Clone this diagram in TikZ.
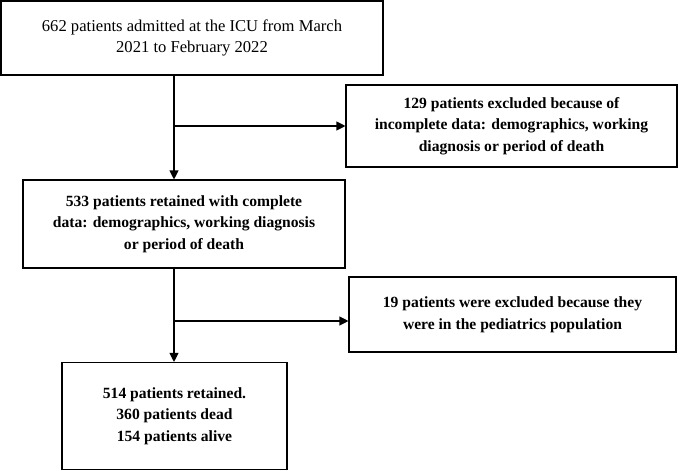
\documentclass[tikz,border=0pt]{standalone}
\usepackage{fontspec}
\setmainfont{Liberation Serif}
\usetikzlibrary{arrows.meta}
\begin{document}
\begin{tikzpicture}[x=1pt,y=-1pt,
  box/.style={draw, line width=1.1pt, align=center, inner sep=0pt,
    font=\fontsize{16.6}{21}\selectfont},
  boldbox/.style={box, font=\fontsize{15.6}{21.5}\selectfont\bfseries},
  arr/.style={line width=1.1pt, -{Triangle[length=9pt,width=9pt]}}]
\useasboundingbox (0,0) rectangle (680,471);
\node[box, minimum width=382pt, minimum height=74pt] (b1) at (192,38)
  {662 patients admitted at the ICU from March\\2021 to February 2022};
\node[boldbox, minimum width=331pt, minimum height=82pt] (b2) at (511.5,126)
  {129 patients excluded because of\\incomplete data: demographics, working\\diagnosis or period of death};
\node[boldbox, minimum width=322pt, minimum height=88pt] (b3) at (184,224)
  {533 patients retained with complete\\data: demographics, working diagnosis\\or period of death};
\node[boldbox, minimum width=327pt, minimum height=75pt] (b4) at (512.5,314.5)
  {19 patients were excluded because they\\were in the pediatrics population};
\node[boldbox, minimum width=225pt, minimum height=107pt] (b5) at (174.5,416)
  {514 patients retained.\\360 patients dead\\154 patients alive};
\coordinate (j1) at (174,126);
\coordinate (j2) at (174,321);
\draw[arr] (b1.south -| j1) -- (b3.north -| j1);
\draw[arr] (j1) -- (b2.west |- j1);
\draw[arr] (b3.south -| j2) -- (b5.north -| j2);
\draw[arr] (j2) -- (b4.west |- j2);
\end{tikzpicture}
\end{document}
